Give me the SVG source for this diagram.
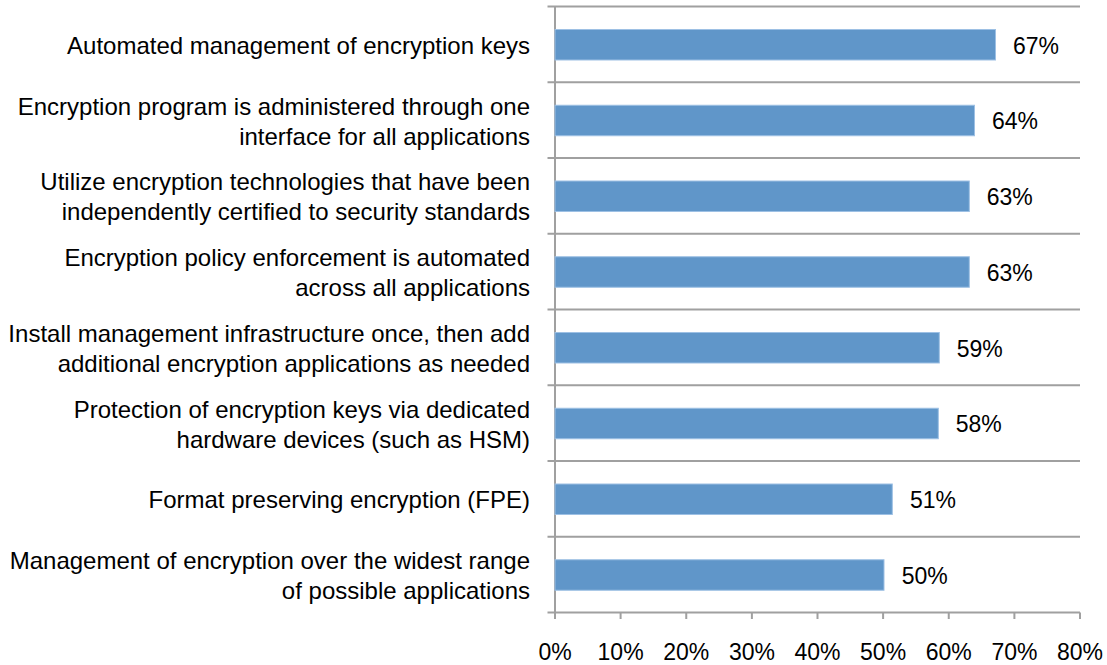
<svg xmlns="http://www.w3.org/2000/svg" width="1107" height="665" viewBox="0 0 1107 665">
<style>
.t{font-family:"Liberation Sans",Arial,sans-serif;font-size:23px;fill:#000}
.cat{text-anchor:end;font-size:24px}
.tick{text-anchor:middle}
.grid{stroke:#a0a0a0;stroke-width:2;fill:none}
.bar{fill:#6096c9;stroke:#9dc0e4;stroke-width:1}
</style>
<rect width="1107" height="665" fill="#fff"/>
<g id="axes">
<path class="grid" d="M547.5 6.5H1080M547.5 82.25H1080M547.5 158H1080M547.5 233.75H1080M547.5 309.5H1080M547.5 385.25H1080M547.5 461H1080M547.5 536.75H1080M547.5 612.5H1080"/>
<path class="grid" d="M555 6.5V619M620.6 612.5V619M686.25 612.5V619M751.9 612.5V619M817.5 612.5V619M883.1 612.5V619M948.75 612.5V619M1014.4 612.5V619M1080 612.5V619"/>
<g class="t tick">
<text x="555" y="660">0%</text>
<text x="620.6" y="660">10%</text>
<text x="686.25" y="660">20%</text>
<text x="751.9" y="660">30%</text>
<text x="817.5" y="660">40%</text>
<text x="883.1" y="660">50%</text>
<text x="948.75" y="660">60%</text>
<text x="1014.4" y="660">70%</text>
<text x="1080" y="660">80%</text>
</g>
</g>
<g id="row1">
<text class="t cat" x="530" y="53.5">Automated management of encryption keys</text>
<rect class="bar" x="555" y="29.5" width="440.5" height="30.5"/>
<text class="t" x="1013" y="53.5">67%</text>
</g>
<g id="row2">
<text class="t cat" x="530" y="114.5">Encryption program is administered through one</text>
<text class="t cat" x="530" y="144.5">interface for all applications</text>
<rect class="bar" x="555" y="105.25" width="419.5" height="30.5"/>
<text class="t" x="992" y="129.3">64%</text>
</g>
<g id="row3">
<text class="t cat" x="530" y="190.3">Utilize encryption technologies that have been</text>
<text class="t cat" x="530" y="220.3">independently certified to security standards</text>
<rect class="bar" x="555" y="181" width="414.3" height="30.5"/>
<text class="t" x="986.7" y="205">63%</text>
</g>
<g id="row4">
<text class="t cat" x="530" y="266">Encryption policy enforcement is automated</text>
<text class="t cat" x="530" y="296">across all applications</text>
<rect class="bar" x="555" y="256.75" width="414.3" height="30.5"/>
<text class="t" x="986.7" y="280.8">63%</text>
</g>
<g id="row5">
<text class="t cat" x="530" y="341.8">Install management infrastructure once, then add</text>
<text class="t cat" x="530" y="371.8">additional encryption applications as needed</text>
<rect class="bar" x="555" y="332.5" width="384.3" height="30.5"/>
<text class="t" x="956.7" y="356.6">59%</text>
</g>
<g id="row6">
<text class="t cat" x="530" y="417.5">Protection of encryption keys via dedicated</text>
<text class="t cat" x="530" y="447.5">hardware devices (such as HSM)</text>
<rect class="bar" x="555" y="408.25" width="383.3" height="30.5"/>
<text class="t" x="955.7" y="432.3">58%</text>
</g>
<g id="row7">
<text class="t cat" x="530" y="508.2">Format preserving encryption (FPE)</text>
<rect class="bar" x="555" y="484" width="337.3" height="30.5"/>
<text class="t" x="910" y="508.2">51%</text>
</g>
<g id="row8">
<text class="t cat" x="530" y="569">Management of encryption over the widest range</text>
<text class="t cat" x="530" y="599">of possible applications</text>
<rect class="bar" x="555" y="559.75" width="329" height="30.5"/>
<text class="t" x="901.7" y="583.8">50%</text>
</g>
</svg>
